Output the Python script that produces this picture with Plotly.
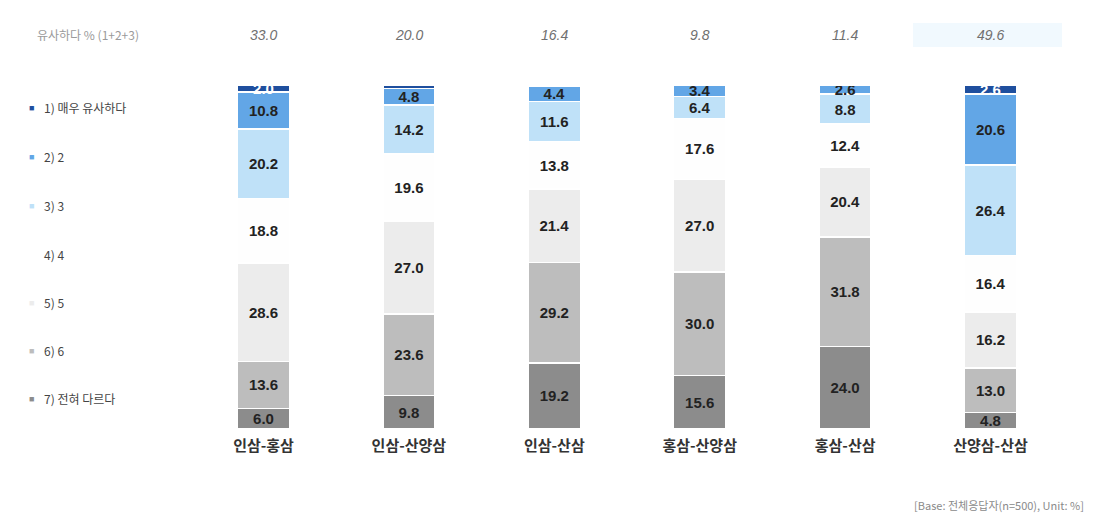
import plotly.graph_objects as go

categories = ["인삼-홍삼", "인삼-산양삼", "인삼-산삼", "홍삼-산양삼", "홍삼-산삼", "산양삼-산삼"]
levels = ["1) 매우 유사하다", "2) 2", "3) 3", "4) 4", "5) 5", "6) 6", "7) 전혀 다르다"]
lvl1 = [2.0, 1.0, 0.4, 0.0, 0.0, 2.6]
lvl2 = [10.8, 4.8, 4.4, 3.4, 2.6, 20.6]
lvl3 = [20.2, 14.2, 11.6, 6.4, 8.8, 26.4]
lvl4 = [18.8, 19.6, 13.8, 17.6, 12.4, 16.4]
lvl5 = [28.6, 27.0, 21.4, 27.0, 20.4, 16.2]
lvl6 = [13.6, 23.6, 29.2, 30.0, 31.8, 13.0]
lvl7 = [6.0, 9.8, 19.2, 15.6, 24.0, 4.8]
top3 = [33.0, 20.0, 16.4, 9.8, 11.4, 49.6]
header_label = "유사하다 % (1+2+3)"
footer = "[Base: 전체응답자(n=500), Unit: %]"

series = [lvl1, lvl2, lvl3, lvl4, lvl5, lvl6, lvl7]
colors = ["#1f4f9e", "#62a6e6", "#bfe1f8", "#fefefe", "#ececec", "#bdbdbd", "#8c8c8c"]
legend_colors = ["#1f4f9e", "#62a6e6", "#bfe1f8", "#ffffff", "#ececec", "#bdbdbd", "#8c8c8c"]
text_colors = ["white", "#222222", "#222222", "#222222", "#222222", "#222222", "#222222"]

NUM_FONT = "Liberation Sans Narrow, Arial Narrow, Liberation Sans, Arial, sans-serif"
KR_FONT = "Noto Sans CJK KR, sans-serif"

fig = go.Figure()
# bottom to top: level 7 first
for i in reversed(range(len(levels))):
    vals = series[i]
    if i == 0:
        txt = [f"<b>{v:.1f}</b>" if v >= 2 else "" for v in vals]
    else:
        txt = [f"<b>{v:.1f}</b>" if v > 0 else "" for v in vals]
    fig.add_trace(go.Bar(
        x=categories, y=vals, name=levels[i],
        marker=dict(color=colors[i], line=dict(color="white", width=1.5)),
        text=txt, textposition="inside", insidetextanchor="middle",
        textangle=0, constraintext="none",
        textfont=dict(family=NUM_FONT, size=15, color=text_colors[i]),
        showlegend=False, hoverinfo="skip",
    ))

# page offset (body margin) compensation
OFF = 8.0
W, H = 1101.0, 528.0
TOP, BOT = 85.0 - OFF, 429.0 - OFF
def py(p):
    return (BOT - (p - OFF)) / (BOT - TOP)
def px(p):
    return (p - OFF) / W

# category centre spacing in px
C0, DX = 263.5 - OFF, 145.4

annotations = []
# header
annotations.append(dict(x=px(35), y=py(35), xref="paper", yref="paper", text=header_label,
                        showarrow=False, xanchor="left", yanchor="middle",
                        font=dict(family=KR_FONT, size=12, color="#9a9a9a")))
for c, v in zip(categories, top3):
    annotations.append(dict(x=c, y=py(35), xref="x", yref="paper", text=f"<i>{v:.1f}</i>",
                            showarrow=False, xanchor="center", yanchor="middle",
                            font=dict(family=NUM_FONT, size=14, color="#707070")))
# legend
leg_y = [107, 156, 205, 254, 302, 350, 398]
for name, col, yy in zip(levels, legend_colors, leg_y):
    annotations.append(dict(x=px(31), y=py(yy), xref="paper", yref="paper", text="■",
                            showarrow=False, xanchor="center", yanchor="middle",
                            font=dict(size=9, color=col)))
    annotations.append(dict(x=px(42), y=py(yy), xref="paper", yref="paper", text=name,
                            showarrow=False, xanchor="left", yanchor="middle",
                            font=dict(family=KR_FONT, size=12, color="#444444")))
# footer
annotations.append(dict(x=px(1086), y=py(505), xref="paper", yref="paper", text=footer,
                        showarrow=False, xanchor="right", yanchor="middle",
                        font=dict(family=KR_FONT, size=11, color="#8a8a8a")))

fig.update_layout(
    width=int(W), height=int(H),
    margin=dict(l=0, r=0, t=TOP, b=H - BOT),
    barmode="stack", bargap=1 - 52 / DX,
    plot_bgcolor="white", paper_bgcolor="white",
    xaxis=dict(type="category", range=[-C0 / DX, (W - C0) / DX], showgrid=False, zeroline=False,
               showline=False, ticks="", ticklabelstandoff=6,
               tickfont=dict(family=KR_FONT, size=15, color="#333333", weight="bold")),
    yaxis=dict(range=[0, 100], visible=False),
    annotations=annotations,
    shapes=[dict(type="rect", xref="paper", yref="paper", x0=px(913), x1=px(1062),
                 y0=py(47), y1=py(23), fillcolor="#f1f9fe", line=dict(width=0), layer="below")],
)

fig.write_html("out.html")
